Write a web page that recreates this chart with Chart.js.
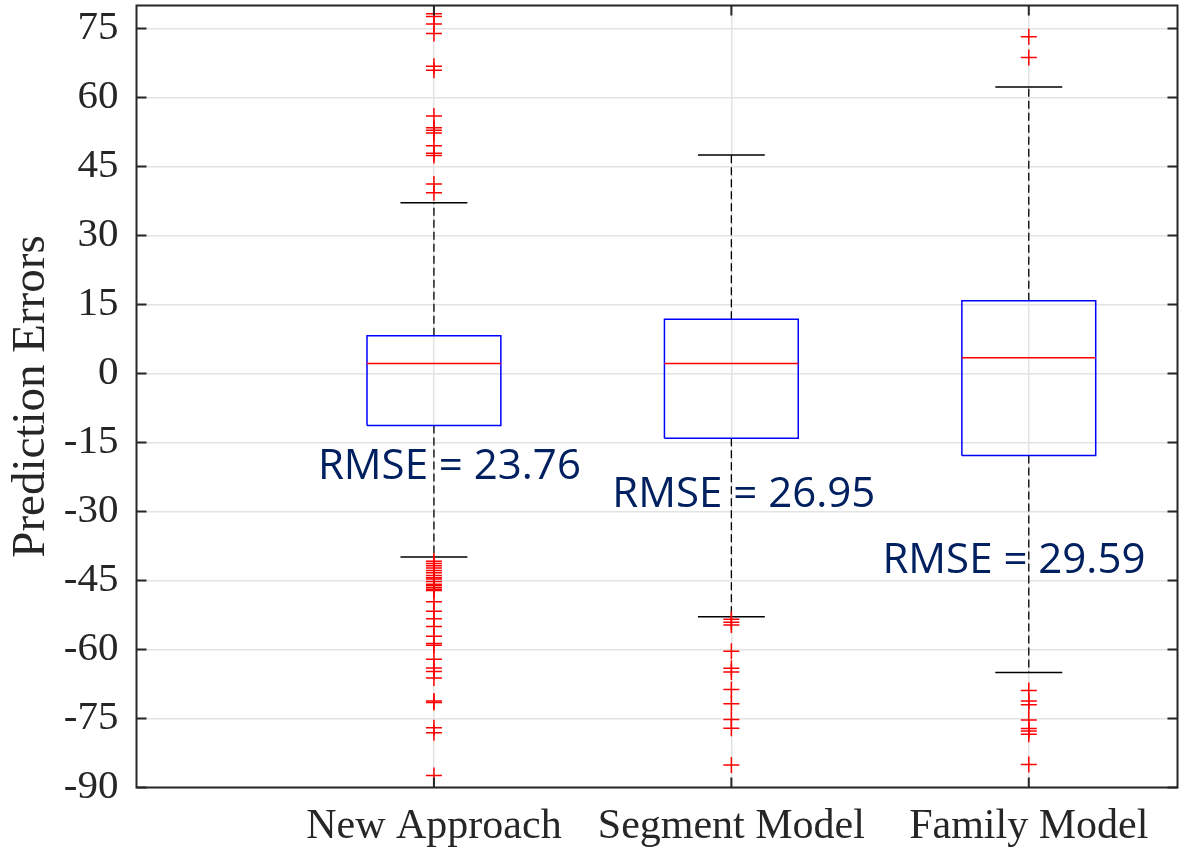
<!DOCTYPE html>
<html>
<head>
<meta charset="utf-8">
<title>Prediction Errors</title>
<script src="https://cdn.jsdelivr.net/npm/chart.js@4.4.1/dist/chart.umd.min.js"></script>
<style>
  body { margin: 0; background: #fff; }
  canvas { display: block; }
</style>
</head>
<body>
<canvas id="boxChart" width="1181" height="849"></canvas>
<script>
// box plot statistics per model
var categories = ['New Approach', 'Segment Model', 'Family Model'];
var q1 = [-11.3, -14.1, -17.8];
var medians = [2.2, 2.2, 3.4];
var q3 = [8.2, 11.8, 15.8];
var whiskerLow = [-39.9, -52.9, -65.0];
var whiskerHigh = [37.1, 47.5, 62.3];

// outliers
var outliersNew = [78.2, 77.6, 76.0, 73.9, 66.8, 65.9, 56.0, 53.4, 52.9, 52.3, 49.5, 47.9, 47.4, 41.2, 39.3,
    -40.8, -41.3, -41.8, -42.3, -42.8, -43.3, -43.9, -44.4, -44.7, -45.2, -45.8, -46.1, -46.5, -46.9, -47.2,
    -49.6, -51.7, -53.3, -55.0, -57.1, -58.7, -59.1, -62.1, -64.0, -64.8, -66.2, -71.2, -71.5, -77.0, -78.1, -87.4];
var outliersSegment = [-53.4, -54.1, -54.7, -60.4, -64.1, -64.9, -68.7, -71.8, -75.2, -77.1, -85.1];
var outliersFamily = [73.2, 68.7, -68.9, -71.2, -72.0, -75.3, -77.2, -77.7, -78.4, -85.0];

var rmse = [23.76, 26.95, 29.59];
var yTicks = [-90, -75, -60, -45, -30, -15, 0, 15, 30, 45, 60, 75];
var xTicks = [1, 2, 3];

// where the RMSE notes sit (x centre, baseline) in data units
var rmseLabelAt = [[1.052, -23.0], [2.042, -29.1], [2.95, -43.4]];

var BOX = 0.225, CAP = 0.1125;
var AXIS_COLOR = '#262626';

function seg(points, color, dash, width) {
    return {
        data: points,
        showLine: true,
        borderColor: color,
        borderWidth: width,
        borderDash: dash || [],
        pointRadius: 0,
        pointHoverRadius: 0,
        fill: false,
        tension: 0
    };
}

var datasets = [];
[outliersNew, outliersSegment, outliersFamily].forEach(function (list, i) {
    datasets.push({
        data: list.map(function (v) { return { x: xTicks[i], y: v }; }),
        showLine: false,
        pointStyle: 'cross',
        pointRadius: 8,
        pointHoverRadius: 8,
        pointBorderColor: '#ff0000',
        pointBorderWidth: 1.5,
        borderColor: '#ff0000'
    });
});
categories.forEach(function (c, i) {
    var x = xTicks[i];
    datasets.push(seg([{ x: x - BOX, y: medians[i] }, { x: x + BOX, y: medians[i] }], '#ff0000', null, 1.5));
    datasets.push(seg([
        { x: x - BOX, y: q1[i] }, { x: x + BOX, y: q1[i] },
        { x: x + BOX, y: q3[i] }, { x: x - BOX, y: q3[i] },
        { x: x - BOX, y: q1[i] }
    ], '#0000ff', null, 1.5));
    datasets.push(seg([{ x: x - CAP, y: whiskerHigh[i] }, { x: x + CAP, y: whiskerHigh[i] }], '#000000', null, 1.5));
    datasets.push(seg([{ x: x - CAP, y: whiskerLow[i] }, { x: x + CAP, y: whiskerLow[i] }], '#000000', null, 1.5));
    datasets.push(seg([{ x: x, y: q3[i] }, { x: x, y: whiskerHigh[i] }], '#000000', [8, 4], 1.3));
    datasets.push(seg([{ x: x, y: q1[i] }, { x: x, y: whiskerLow[i] }], '#000000', [8, 4], 1.3));
});

var framePlugin = {
    id: 'frame',
    afterDatasetsDraw: function (chart) {
        var ctx = chart.ctx, a = chart.chartArea;
        var xs = chart.scales.x, ys = chart.scales.y;
        ctx.save();
        ctx.font = '42px "Open Sans"';
        ctx.fillStyle = '#002060';
        ctx.textAlign = 'center';
        ctx.textBaseline = 'alphabetic';
        rmse.forEach(function (v, i) {
            ctx.fillText('RMSE = ' + v.toFixed(2),
                xs.getPixelForValue(rmseLabelAt[i][0]), ys.getPixelForValue(rmseLabelAt[i][1]));
        });
        ctx.strokeStyle = AXIS_COLOR;
        ctx.lineWidth = 2;
        ctx.beginPath();
        yTicks.forEach(function (v) {
            var p = ys.getPixelForValue(v);
            ctx.moveTo(a.left, p); ctx.lineTo(a.left + 10, p);
            ctx.moveTo(a.right, p); ctx.lineTo(a.right - 10, p);
        });
        xTicks.forEach(function (v) {
            var p = xs.getPixelForValue(v);
            ctx.moveTo(p, a.top); ctx.lineTo(p, a.top + 10);
            ctx.moveTo(p, a.bottom); ctx.lineTo(p, a.bottom - 10);
        });
        ctx.stroke();
        ctx.strokeRect(a.left, a.top, a.right - a.left, a.bottom - a.top);
        ctx.restore();
    }
};

new Chart(document.getElementById('boxChart').getContext('2d'), {
    type: 'scatter',
    data: { datasets: datasets },
    plugins: [framePlugin],
    options: {
        responsive: false,
        animation: false,
        layout: { autoPadding: false, padding: { top: 5.5, right: 3.5, left: 0, bottom: 0 } },
        plugins: { legend: { display: false }, tooltip: { enabled: false } },
        scales: {
            x: {
                type: 'linear',
                min: 0,
                max: 3.5,
                afterBuildTicks: function (scale) {
                    scale.ticks = xTicks.map(function (v) { return { value: v }; });
                },
                afterFit: function (scale) {
                    scale.height = 61.5;
                    scale.paddingLeft = 0;
                    scale.paddingRight = 0;
                },
                grid: { color: '#e3e3e3', lineWidth: 1.5, drawTicks: false },
                border: { display: false },
                ticks: {
                    autoSkip: false,
                    maxRotation: 0,
                    padding: 14,
                    color: AXIS_COLOR,
                    font: { family: 'Liberation Serif', size: 42 },
                    callback: function (v) { return categories[v - 1]; }
                }
            },
            y: {
                min: -90,
                max: 80,
                afterBuildTicks: function (scale) {
                    scale.ticks = yTicks.map(function (v) { return { value: v }; });
                },
                afterFit: function (scale) {
                    scale.width = 136.5;
                    scale.paddingTop = 0;
                    scale.paddingBottom = 0;
                },
                grid: { color: '#e3e3e3', lineWidth: 1.5, drawTicks: false },
                border: { display: false },
                title: {
                    display: true,
                    text: 'Prediction Errors',
                    color: AXIS_COLOR,
                    font: { family: 'Liberation Serif', size: 47, lineHeight: 1 },
                    padding: { top: 8, bottom: 0 }
                },
                ticks: {
                    padding: 18,
                    color: AXIS_COLOR,
                    font: { family: 'Liberation Serif', size: 41 },
                    callback: function (v) { return String(v); }
                }
            }
        }
    }
});
</script>
</body>
</html>
